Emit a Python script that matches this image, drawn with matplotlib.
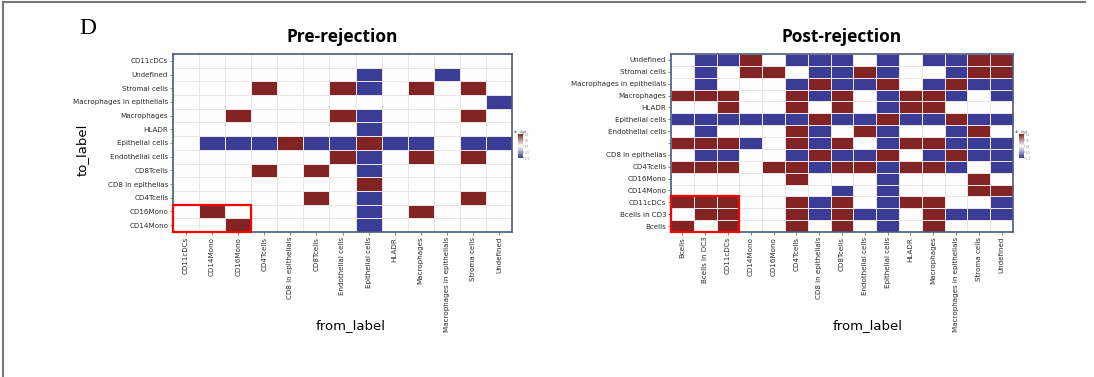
import numpy as np
import matplotlib
matplotlib.use("Agg")
import matplotlib.pyplot as plt
from matplotlib.colors import LinearSegmentedColormap
from matplotlib.patches import Rectangle
from matplotlib.lines import Line2D

# ---- data ----
pre_rows = ['CD11cDCs', 'Undefined', 'Stromal cells', 'Macrophages in epithelials', 'Macrophages',
            'HLADR', 'Epithelial cells', 'Endothelial cells', 'CD8Tcells', 'CD8 in epithelias',
            'CD4Tcells', 'CD16Mono', 'CD14Mono']
pre_cols = ['CD11cDCs', 'CD14Mono', 'CD16Mono', 'CD4Tcells', 'CD8 in epithelials', 'CD8Tcells',
            'Endothelial cells', 'Epithelial cells', 'HLADR', 'Macrophages',
            'Macrophages in epithelials', 'Stroma cells', 'Undefined']
# 1 = red, -1 = blue, 0 = white (rows top to bottom)
pre_vals = [
    [0, 0, 0, 0, 0, 0, 0, 0, 0, 0, 0, 0, 0],
    [0, 0, 0, 0, 0, 0, 0, -1, 0, 0, -1, 0, 0],
    [0, 0, 0, 1, 0, 0, 1, -1, 0, 1, 0, 1, 0],
    [0, 0, 0, 0, 0, 0, 0, 0, 0, 0, 0, 0, -1],
    [0, 0, 1, 0, 0, 0, 1, -1, 0, 0, 0, 1, 0],
    [0, 0, 0, 0, 0, 0, 0, -1, 0, 0, 0, 0, 0],
    [0, -1, -1, -1, 1, -1, -1, 1, -1, -1, 0, -1, -1],
    [0, 0, 0, 0, 0, 0, 1, -1, 0, 1, 0, 1, 0],
    [0, 0, 0, 1, 0, 1, 0, -1, 0, 0, 0, 0, 0],
    [0, 0, 0, 0, 0, 0, 0, 1, 0, 0, 0, 0, 0],
    [0, 0, 0, 0, 0, 1, 0, -1, 0, 0, 0, 1, 0],
    [0, 1, 0, 0, 0, 0, 0, -1, 0, 1, 0, 0, 0],
    [0, 0, 1, 0, 0, 0, 0, -1, 0, 0, 0, 0, 0],
]

post_rows = ['Undefined', 'Stromal cells', 'Macrophages in epithelials', 'Macrophages', 'HLADR',
             'Epithelial cells', 'Endothelial cells', '', 'CD8 in epithelias', 'CD4Tcells',
             'CD16Mono', 'CD14Mono', 'CD11cDCs', 'Bcells in CD3', 'Bcells']
post_cols = ['Bcells', 'Bcells in DC3', 'CD11cDCs', 'CD14Mono', 'CD16Mono', 'CD4Tcells',
             'CD8 in epithelials', 'CD8Tcells', 'Endothelial cells', 'Epithelial cells', 'HLADR',
             'Macrophages', 'Macrophages in epithelials', 'Stroma cells', 'Undefined']
post_vals = [
    [0, -1, -1, 1, 0, -1, -1, -1, 0, -1, 0, -1, -1, 1, 1],
    [0, -1, 0, 1, 1, 0, -1, -1, 1, -1, 0, 0, -1, 1, 1],
    [0, -1, 0, 0, 0, -1, 1, -1, -1, 1, 0, -1, 1, -1, -1],
    [1, 1, 1, 0, 0, 1, -1, 1, 0, -1, 1, 1, -1, 0, -1],
    [0, 0, 1, 0, 0, 1, 0, 1, 0, -1, 1, 1, 0, 0, 0],
    [-1, -1, -1, -1, -1, -1, 1, -1, -1, 1, -1, -1, 1, -1, -1],
    [0, -1, 0, 0, 0, 1, -1, 0, 1, -1, 0, 0, -1, 1, 0],
    [1, 1, 1, -1, 0, 1, -1, 1, 0, -1, 1, 1, -1, -1, -1],
    [0, -1, -1, 0, 0, -1, 1, -1, -1, 1, 0, -1, 1, -1, -1],
    [1, 1, 1, 0, 1, 1, -1, 1, 1, -1, 1, 1, -1, 0, -1],
    [0, 0, 0, 0, 0, 1, 0, 0, 0, -1, 0, 0, 0, 1, 0],
    [0, 0, 0, 0, 0, 0, 0, -1, 0, -1, 0, 0, 0, 1, 1],
    [1, 1, 1, 0, 0, 1, -1, 1, 0, -1, 1, 1, 0, 0, -1],
    [0, 1, 1, 0, 0, 1, -1, 1, -1, -1, 0, 1, -1, -1, -1],
    [1, 0, 1, 0, 0, 1, 0, 1, 0, -1, 0, 1, 0, 0, 0],
]

cbar_ticks = [1.0, 0.5, 0.0, -0.5, -1.0]

cmap = LinearSegmentedColormap.from_list('dpd', ['#3a3c96', '#ffffff', '#832424'])
frame_col = '#4d5b7c'
tick_fs = 5.1


def draw_heat(ax, vals, rows, cols, title, box_cols, box_rows):
    z = np.array(vals, dtype=float)
    nr, nc = z.shape
    ax.pcolormesh(np.arange(nc + 1) - 0.5, np.arange(nr + 1) - 0.5, z, cmap=cmap, vmin=-1, vmax=1,
                  edgecolors='#ece4e4', linewidth=0.4, zorder=2)
    ax.set_xlim(-0.5, nc - 0.5)
    ax.set_ylim(nr - 0.5, -0.5)
    ax.set_xticks(range(nc))
    ax.set_xticklabels(cols, rotation=90, fontsize=tick_fs, color='#2a2a2a')
    ax.set_yticks(range(nr))
    ax.set_yticklabels(rows, fontsize=tick_fs, color='#2a2a2a')
    ax.tick_params(length=2, width=0.5, color='#555555', pad=1.5)
    for s in ax.spines.values():
        s.set_color(frame_col)
        s.set_linewidth(1.2)
    ax.set_title(title, fontsize=12.5, fontweight='bold', family='Open Sans', pad=9)
    # red highlight box
    ax.add_patch(Rectangle((-0.5, nr - 0.5 - box_rows), box_cols, box_rows, fill=False,
                           edgecolor='#ff0000', linewidth=1.6, zorder=5, clip_on=False))


def draw_cbar(fig, rect, mappable_cmap):
    cax = fig.add_axes(rect)
    grad = np.linspace(1, -1, 100).reshape(-1, 1)
    cax.imshow(grad, aspect='auto', cmap=mappable_cmap, vmin=-1, vmax=1, extent=[0, 1, -1, 1])
    cax.set_xticks([])
    cax.yaxis.tick_right()
    cax.set_yticks(cbar_ticks)
    cax.set_yticklabels([str(t) for t in cbar_ticks], fontsize=2, color='#888888')
    cax.tick_params(length=1, width=0.3, pad=0.5)
    for s in cax.spines.values():
        s.set_visible(False)
    cax.set_title('dir_dpd', fontsize=2.5, color='#666666', pad=1)


fig = plt.figure(figsize=(10.94, 3.77), dpi=100)
W, H = 1094.0, 377.0

ax1 = fig.add_axes([173 / W, 1 - 232 / H, 339 / W, 178 / H])
draw_heat(ax1, pre_vals, pre_rows, pre_cols, 'Pre-rejection', 3, 2)
ax2 = fig.add_axes([671 / W, 1 - 232 / H, 342 / W, 178 / H])
draw_heat(ax2, post_vals, post_rows, post_cols, 'Post-rejection', 3, 3)

draw_cbar(fig, [518 / W, 1 - 158 / H, 5 / W, 24 / H], cmap)
draw_cbar(fig, [1019 / W, 1 - 158 / H, 5 / W, 24 / H], cmap)

fig.text(82 / W, 1 - 150 / H, 'to_label', ha='center', va='center', rotation=90, fontsize=9.5)
fig.text(351 / W, 1 - 326 / H, 'from_label', ha='center', va='center', fontsize=9.5)
fig.text(868 / W, 1 - 326 / H, 'from_label', ha='center', va='center', fontsize=9.5)

fig.text(88 / W, 1 - 28 / H, 'D', ha='center', va='center', fontsize=17, family='Liberation Serif')

# panel frame (top and left edges)
fig.add_artist(Line2D([3 / W, 1085 / W], [1 - 1.5 / H, 1 - 1.5 / H], color='#777777', linewidth=1.5))
fig.add_artist(Line2D([3 / W, 3 / W], [0, 1 - 1.5 / H], color='#777777', linewidth=1.5))

fig.savefig('out.png', dpi=100)
